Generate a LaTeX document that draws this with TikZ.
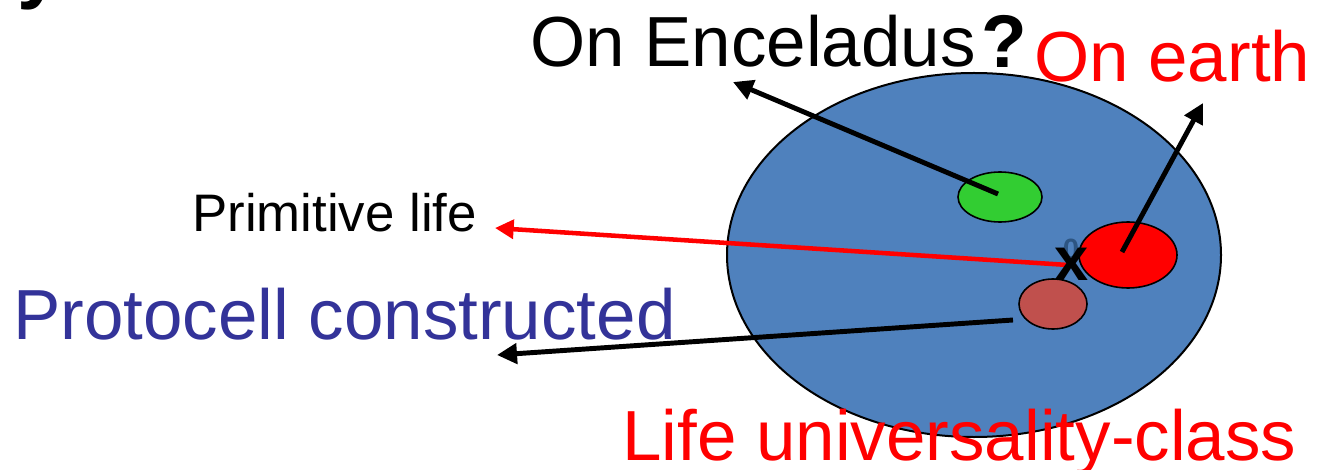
\documentclass[tikz,border=0pt]{standalone}
\usepackage{fontspec}
\setmainfont{Liberation Sans}
\usetikzlibrary{arrows.meta,shapes.geometric}
\definecolor{bigblue}{RGB}{79,129,189}
\definecolor{lgreen}{RGB}{50,205,50}
\definecolor{brownred}{RGB}{192,80,77}
\definecolor{navy}{RGB}{51,51,153}
\definecolor{ghost}{RGB}{45,85,130}
\tikzset{
  blob/.style={ellipse, draw=black, line width=1.2pt, inner sep=0pt, outer sep=0pt},
  bigtxt/.style={anchor=base west, inner sep=0pt, font=\fontsize{53.2pt}{60pt}\selectfont},
  smalltxt/.style={anchor=base west, inner sep=0pt, font=\fontsize{39.6pt}{44pt}\selectfont},
  blackarrow/.style={line width=3.7pt, -{Triangle[length=15pt,width=15pt]}},
  redarrow/.style={draw=red, line width=3.4pt, -{Triangle[length=14pt,width=14pt]}},
}
\begin{document}
\begin{tikzpicture}[x=0.75pt,y=-0.75pt]
\useasboundingbox (0,0) rectangle (1330,470);
% cut-off title letter
\node[anchor=base west, inner sep=0pt, font=\fontsize{60pt}{70pt}\selectfont\bfseries] (title) at (17,-6) {y};
% big ellipse
\node[blob, fill=bigblue, line width=1.5pt, minimum width=370.5pt, minimum height=273pt] (univ) at (974,255) {};
\node[blob, fill=lgreen, minimum width=63pt, minimum height=37.5pt] (green) at (1000,197) {};
\node[blob, fill=red, minimum width=73.5pt, minimum height=49.5pt] (redcell) at (1128,255) {};
\node[blob, fill=brownred, minimum width=51pt, minimum height=37.5pt] (brown) at (1053,304) {};
\node[inner sep=0pt, text=ghost, font=\fontsize{22pt}{24pt}\selectfont\bfseries] (ghost) at (1071,249) {0};
% end points
\coordinate (encTip) at (733,82);
\coordinate (earthTip) at (1203,103);
\coordinate (primTip) at (495,228);
\coordinate (protoTip) at (497,355);
\coordinate (xpt) at (1068,265);
\coordinate (brownStart) at (1013,320);
% arrows
\draw[blackarrow] (green.center) ++(-2,-3) -- (encTip);
\draw[blackarrow] (redcell.center) ++(-6,-3) -- (earthTip);
\draw[redarrow] (xpt) -- (primTip);
\draw[blackarrow] (brownStart) -- (protoTip);
\node[inner sep=0pt, font=\fontsize{46pt}{50pt}\selectfont\bfseries] (xmark) at (1072,264) {x};
% texts
\node[bigtxt] (enc) at (530,67) {On Enceladus};
\node[anchor=base west, inner sep=0pt, font=\fontsize{56pt}{60pt}\selectfont\bfseries] (qm) at (981,68) {?};
\node[bigtxt, text=red] (earth) at (1034,82) {On earth};
\node[smalltxt] (prim) at (192,232) {Primitive life};
\node[bigtxt, text=navy] (proto) at (13,339) {Protocell constructed};
\node[bigtxt, text=red] (life) at (622,460) {Life universality-class};
\end{tikzpicture}
\end{document}
